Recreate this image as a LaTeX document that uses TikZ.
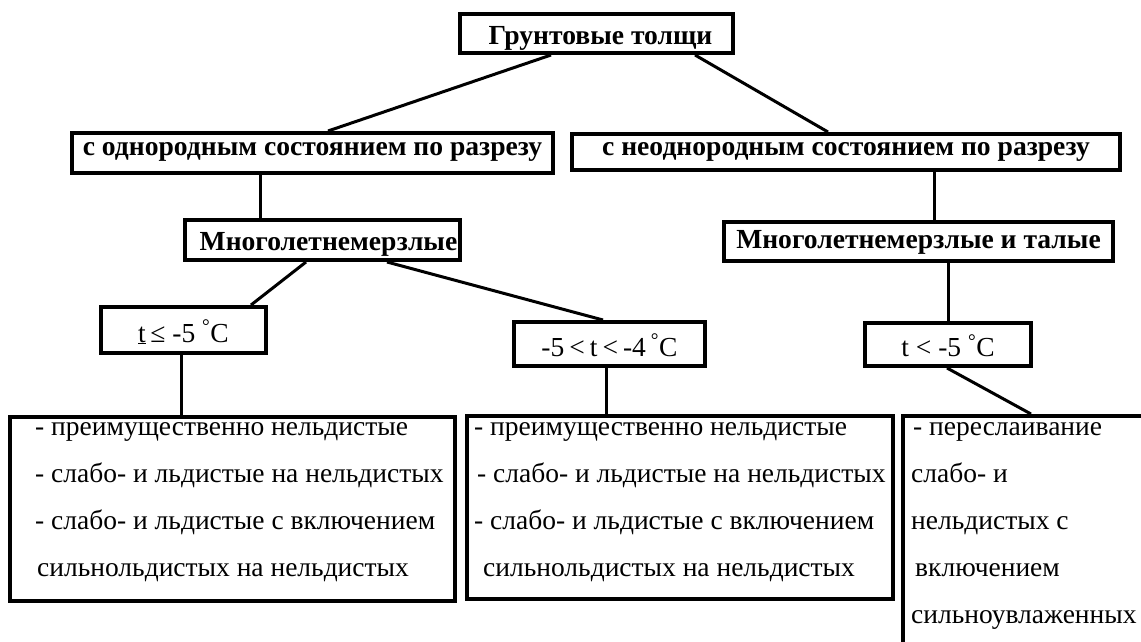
\documentclass[tikz,border=0pt]{standalone}
\usepackage{fontspec}
\setmainfont{Liberation Serif}
\usetikzlibrary{calc}
\begin{document}
\begin{tikzpicture}[x=1pt,y=-1pt,
  box/.style={draw, line width=4pt, inner sep=0pt, rectangle},
  conn/.style={line width=3pt},
  bfont/.style={font=\fontsize{27.6}{30}\selectfont\bfseries},
  rfont/.style={font=\fontsize{27.5}{30}\selectfont},
  listfont/.style={font=\fontsize{27.5}{47}\selectfont, inner sep=0pt, anchor=base west}]
\useasboundingbox (0,0) rectangle (1141,642);
\clip (0,0) rectangle (1141,642);
\fill[white] (0,0) rectangle (1141,642);

% level 1
\node[box,bfont,minimum width=273pt,minimum height=39pt,text height=23pt,text depth=0pt] (g) at (596.5,33.5) {\hspace{8pt}Грунтовые толщи};
% level 2
\node[box,bfont,minimum width=481pt,minimum height=40pt,text height=18pt,text depth=13pt] (l2a) at (312.5,153) {с однородным состоянием по разрезу\hspace{16pt}};
\node[box,bfont,minimum width=548pt,minimum height=36pt,text height=18pt,text depth=11pt] (l2b) at (846,152) {с неоднородным состоянием по разрезу\hspace{12pt}};
% level 3
\node[box,bfont,minimum width=275pt,minimum height=40pt,text height=20pt,text depth=0pt] (m1) at (322.5,240) {\hspace{12pt}Многолетнемерзлые};
\node[box,bfont,minimum width=389pt,minimum height=39pt,text height=18pt,text depth=4pt] (m2) at (918.5,241.5) {Многолетнемерзлые и талые};
% level 4
\node[box,rfont,minimum width=165pt,minimum height=46pt,text height=24pt,text depth=0pt] (t1) at (183.5,330) {\underline{t}\,≤ -5 \textsuperscript{°}C\hspace{5pt}};
\node[box,rfont,minimum width=191pt,minimum height=44pt,text height=24pt,text depth=0pt] (t2) at (609.5,344) {-5\hspace{5pt}<\hspace{5pt}t\hspace{5pt}<\hspace{5pt}-4\hspace{5pt}\textsuperscript{°}C};
\node[box,rfont,minimum width=166pt,minimum height=43pt,text height=24pt,text depth=0pt] (t3) at (948,344.5) {t < -5 \textsuperscript{°}C};
% level 5 boxes
\node[box,minimum width=445pt,minimum height=184pt] (b1) at (232.5,509) {};
\node[box,minimum width=426pt,minimum height=183pt] (b2) at (680,507.5) {};
\node[box,minimum width=265pt,minimum height=262pt] (b3) at (1035.5,547) {};
% level 5 texts
\node[listfont] (b1t) at (35,435) {\parbox[t]{420pt}{- преимущественно нельдистые\\
- слабо- и льдистые на нельдистых\\
- слабо- и льдистые с включением\\
\hspace*{2pt}сильнольдистых на нельдистых}};
\node[listfont] (b2t) at (474,435) {\parbox[t]{420pt}{- преимущественно нельдистые\\
\hspace*{3pt}- слабо- и льдистые на нельдистых\\
- слабо- и льдистые с включением\\
\hspace*{9pt}сильнольдистых на нельдистых}};
\node[listfont] (b3t) at (911,435) {\parbox[t]{240pt}{\hspace*{2pt}- переслаивание\\
слабо- и\\
нельдистых с\\
\hspace*{4pt}включением\\
сильноувлаженных}};

% connectors
\draw[conn] ([xshift=93pt]g.south west) -- ([xshift=258pt]l2a.north west);
\draw[conn] ([xshift=237pt]g.south west) -- ([xshift=258pt]l2b.north west);
\draw[conn] ([xshift=190pt]l2a.south west) -- ([xshift=190pt]l2a.south west |- m1.north);
\draw[conn] ([xshift=364pt]l2b.south west) -- ([xshift=364pt]l2b.south west |- m2.north);
\draw[conn] ([xshift=123pt]m1.south west) -- ([xshift=152pt]t1.north west);
\draw[conn] ([xshift=204pt]m1.south west) -- ([xshift=91pt]t2.north west);
\draw[conn] (t3.north) -- (t3.north |- m2.south);
\draw[conn] ([xshift=-2pt]t1.south) -- ([xshift=-2pt]t1.south |- b1.north);
\draw[conn] ([xshift=-3pt]t2.south) -- ([xshift=-3pt]t2.south |- b2.north);
\draw[conn] ([xshift=-1pt]t3.south) -- ([xshift=130pt]b3.north west);
\end{tikzpicture}
\end{document}
